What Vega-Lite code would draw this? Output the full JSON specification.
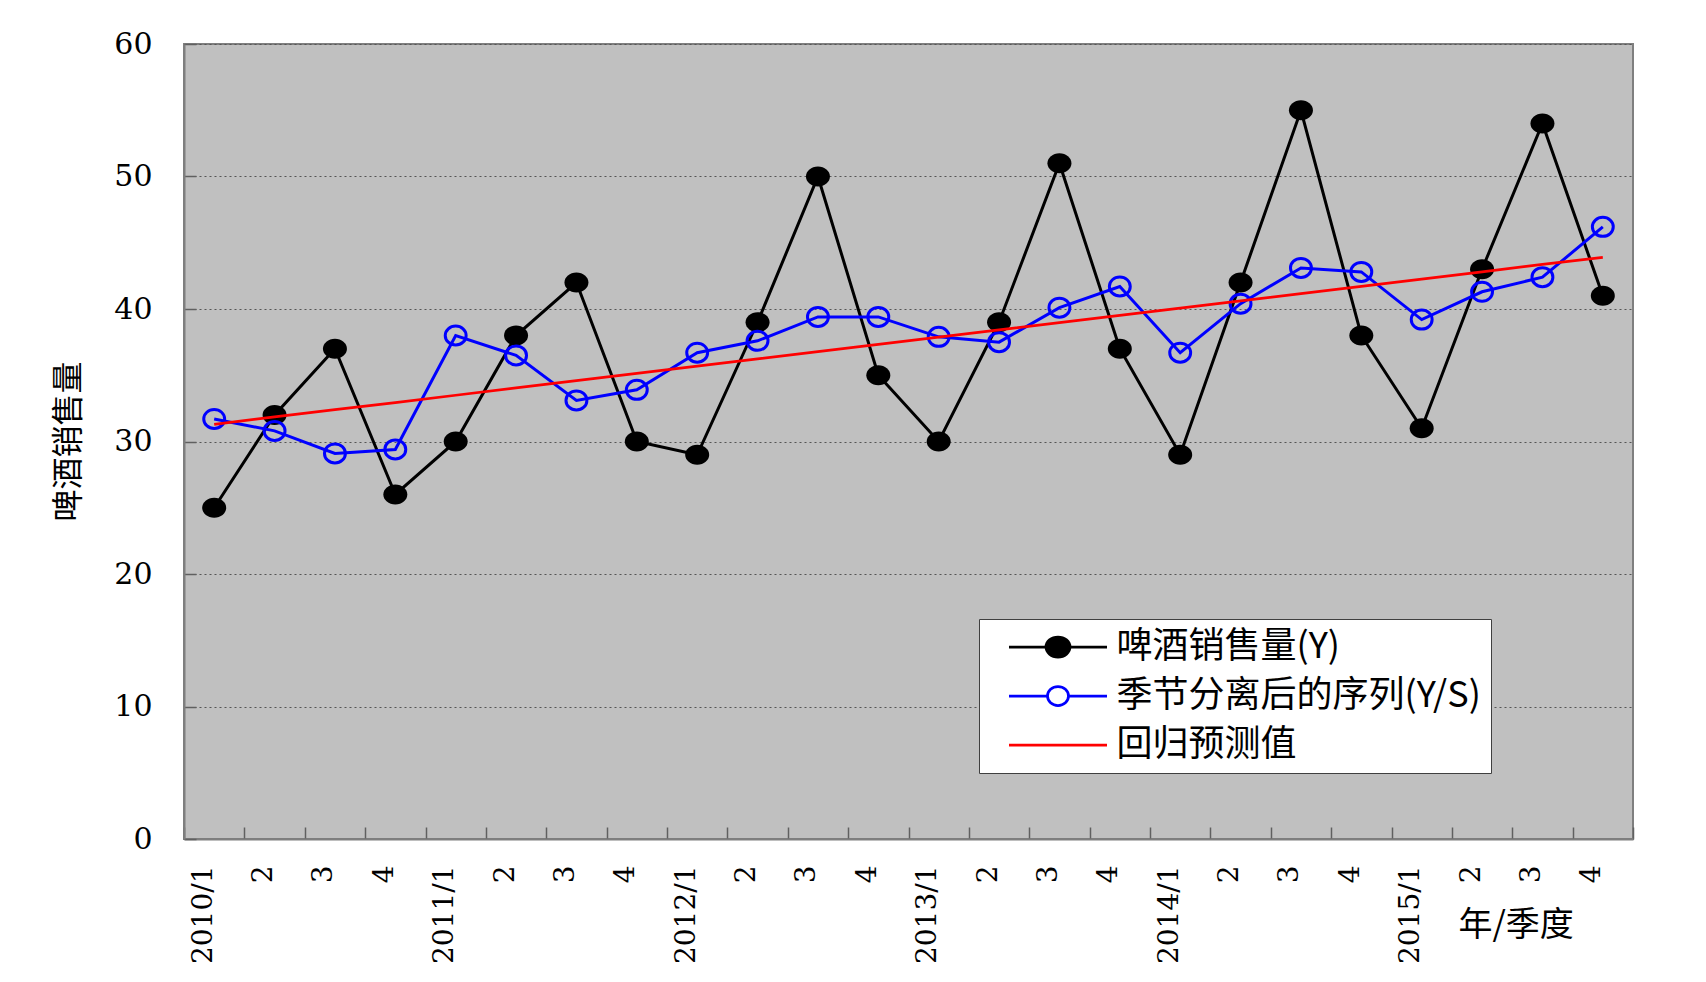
{
  "$schema": "https://vega.github.io/schema/vega-lite/v6.json",
  "width": 1449,
  "height": 795,
  "autosize": "none",
  "padding": {"left": 184, "top": 44, "right": 73, "bottom": 143},
  "background": "white",
  "config": {"view": {"fill": "#C0C0C0", "stroke": "#7F7F7F", "strokeWidth": 2}, "font": "DejaVu Serif"},
  "datasets": {
    "d": [
      {"p":"2010/1","s":"啤酒销售量(Y)","v":25},{"p":"2010/2","s":"啤酒销售量(Y)","v":32},{"p":"2010/3","s":"啤酒销售量(Y)","v":37},{"p":"2010/4","s":"啤酒销售量(Y)","v":26},
      {"p":"2011/1","s":"啤酒销售量(Y)","v":30},{"p":"2011/2","s":"啤酒销售量(Y)","v":38},{"p":"2011/3","s":"啤酒销售量(Y)","v":42},{"p":"2011/4","s":"啤酒销售量(Y)","v":30},
      {"p":"2012/1","s":"啤酒销售量(Y)","v":29},{"p":"2012/2","s":"啤酒销售量(Y)","v":39},{"p":"2012/3","s":"啤酒销售量(Y)","v":50},{"p":"2012/4","s":"啤酒销售量(Y)","v":35},
      {"p":"2013/1","s":"啤酒销售量(Y)","v":30},{"p":"2013/2","s":"啤酒销售量(Y)","v":39},{"p":"2013/3","s":"啤酒销售量(Y)","v":51},{"p":"2013/4","s":"啤酒销售量(Y)","v":37},
      {"p":"2014/1","s":"啤酒销售量(Y)","v":29},{"p":"2014/2","s":"啤酒销售量(Y)","v":42},{"p":"2014/3","s":"啤酒销售量(Y)","v":55},{"p":"2014/4","s":"啤酒销售量(Y)","v":38},
      {"p":"2015/1","s":"啤酒销售量(Y)","v":31},{"p":"2015/2","s":"啤酒销售量(Y)","v":43},{"p":"2015/3","s":"啤酒销售量(Y)","v":54},{"p":"2015/4","s":"啤酒销售量(Y)","v":41},
      {"p":"2010/1","s":"季节分离后的序列(Y/S)","v":31.7},{"p":"2010/2","s":"季节分离后的序列(Y/S)","v":30.8},{"p":"2010/3","s":"季节分离后的序列(Y/S)","v":29.1},{"p":"2010/4","s":"季节分离后的序列(Y/S)","v":29.4},
      {"p":"2011/1","s":"季节分离后的序列(Y/S)","v":38.0},{"p":"2011/2","s":"季节分离后的序列(Y/S)","v":36.5},{"p":"2011/3","s":"季节分离后的序列(Y/S)","v":33.1},{"p":"2011/4","s":"季节分离后的序列(Y/S)","v":33.9},
      {"p":"2012/1","s":"季节分离后的序列(Y/S)","v":36.7},{"p":"2012/2","s":"季节分离后的序列(Y/S)","v":37.6},{"p":"2012/3","s":"季节分离后的序列(Y/S)","v":39.4},{"p":"2012/4","s":"季节分离后的序列(Y/S)","v":39.4},
      {"p":"2013/1","s":"季节分离后的序列(Y/S)","v":37.9},{"p":"2013/2","s":"季节分离后的序列(Y/S)","v":37.5},{"p":"2013/3","s":"季节分离后的序列(Y/S)","v":40.1},{"p":"2013/4","s":"季节分离后的序列(Y/S)","v":41.7},
      {"p":"2014/1","s":"季节分离后的序列(Y/S)","v":36.7},{"p":"2014/2","s":"季节分离后的序列(Y/S)","v":40.4},{"p":"2014/3","s":"季节分离后的序列(Y/S)","v":43.1},{"p":"2014/4","s":"季节分离后的序列(Y/S)","v":42.8},
      {"p":"2015/1","s":"季节分离后的序列(Y/S)","v":39.2},{"p":"2015/2","s":"季节分离后的序列(Y/S)","v":41.3},{"p":"2015/3","s":"季节分离后的序列(Y/S)","v":42.4},{"p":"2015/4","s":"季节分离后的序列(Y/S)","v":46.2},
      {"p":"2010/1","s":"回归预测值","v":31.3},{"p":"2010/2","s":"回归预测值","v":31.85},{"p":"2010/3","s":"回归预测值","v":32.4},{"p":"2010/4","s":"回归预测值","v":32.94},
      {"p":"2011/1","s":"回归预测值","v":33.49},{"p":"2011/2","s":"回归预测值","v":34.04},{"p":"2011/3","s":"回归预测值","v":34.59},{"p":"2011/4","s":"回归预测值","v":35.14},
      {"p":"2012/1","s":"回归预测值","v":35.68},{"p":"2012/2","s":"回归预测值","v":36.23},{"p":"2012/3","s":"回归预测值","v":36.78},{"p":"2012/4","s":"回归预测值","v":37.33},
      {"p":"2013/1","s":"回归预测值","v":37.88},{"p":"2013/2","s":"回归预测值","v":38.42},{"p":"2013/3","s":"回归预测值","v":38.97},{"p":"2013/4","s":"回归预测值","v":39.52},
      {"p":"2014/1","s":"回归预测值","v":40.07},{"p":"2014/2","s":"回归预测值","v":40.62},{"p":"2014/3","s":"回归预测值","v":41.16},{"p":"2014/4","s":"回归预测值","v":41.71},
      {"p":"2015/1","s":"回归预测值","v":42.26},{"p":"2015/2","s":"回归预测值","v":42.81},{"p":"2015/3","s":"回归预测值","v":43.36},{"p":"2015/4","s":"回归预测值","v":43.9}
    ]
  },
  "data": {"name": "d"},
  "encoding": {
    "x": {
      "field": "p", "type": "ordinal", "sort": null,
      "scale": {"type": "band", "paddingInner": 0, "paddingOuter": 0},
      "axis": {
        "title": "年/季度", "titleFont": "Noto Sans CJK SC", "titleFontSize": 34, "titleFontWeight": "normal", "titleColor": "black",
        "titleX": 1274, "titleY": 86, "titleAlign": "left", "titleBaseline": "middle", "titleAngle": 0,
        "labelAngle": -90, "labelFont": "DejaVu Serif", "labelFontSize": 28, "labelColor": "black",
        "labelPadding": 38, "labelOffset": -11, "labelAlign": "right", "labelBaseline": "middle", "labelOverlap": false,
        "labelExpr": "split(datum.value,'/')[1] == '1' ? datum.value : split(datum.value,'/')[1]",
        "tickBand": "extent", "tickSize": -12, "tickColor": "#606060", "tickWidth": 1.5,
        "domainColor": "#7F7F7F", "domainWidth": 2, "grid": false
      }
    },
    "y": {
      "field": "v", "type": "quantitative",
      "scale": {"domain": [0, 60], "nice": false},
      "axis": {
        "values": [0, 10, 20, 30, 40, 50, 60],
        "title": "啤酒销售量", "titleFont": "Noto Sans CJK SC", "titleFontSize": 32, "titleFontWeight": "normal", "titleColor": "black",
        "titleX": -116, "titleY": 397, "titleAngle": -90, "titleAlign": "center", "titleBaseline": "middle",
        "labelFont": "DejaVu Serif", "labelFontSize": 30, "labelColor": "black", "labelPadding": 44,
        "tickSize": -12, "tickColor": "#606060", "tickWidth": 1.5,
        "domainColor": "#7F7F7F", "domainWidth": 2,
        "grid": true, "gridColor": "#555555", "gridDash": [2, 3], "gridWidth": 1
      }
    }
  },
  "layer": [
    {"transform": [{"filter": "datum.s == '啤酒销售量(Y)'"}], "mark": {"type": "line", "color": "black", "strokeWidth": 3}},
    {"transform": [{"filter": "datum.s == '啤酒销售量(Y)'"}], "mark": {"type": "point", "filled": true, "color": "black", "opacity": 1, "size": 400, "shape": "M-1.2,0A1.2,1,0,1,0,1.2,0A1.2,1,0,1,0,-1.2,0Z"}},
    {"transform": [{"filter": "datum.s == '季节分离后的序列(Y/S)'"}], "mark": {"type": "line", "color": "#0000FF", "strokeWidth": 3}},
    {"transform": [{"filter": "datum.s == '季节分离后的序列(Y/S)'"}], "mark": {"type": "point", "filled": false, "color": "#0000FF", "opacity": 1, "strokeWidth": 3, "size": 361, "shape": "M-1.1,0A1.1,1,0,1,0,1.1,0A1.1,1,0,1,0,-1.1,0Z"}},
    {"transform": [{"filter": "datum.s == '回归预测值'"}], "mark": {"type": "line", "color": "#FF0000", "strokeWidth": 2.75}},
    {
      "mark": {"type": "point", "filled": false, "opacity": 0},
      "encoding": {
        "color": {
          "field": "s", "type": "nominal",
          "scale": {"domain": ["啤酒销售量(Y)", "季节分离后的序列(Y/S)", "回归预测值"], "range": ["#000000", "#0000FF", "#FF0000"]},
          "legend": {
            "orient": "none", "legendX": 795, "legendY": 575, "title": null,
            "fillColor": "white", "strokeColor": "#404040", "padding": 10,
            "clipHeight": 36, "rowPadding": 13,
            "symbolSize": 10000, "symbolStrokeWidth": 2.75, "symbolOffset": 17.5, "symbolOpacity": 1,
            "labelOffset": 7, "labelFont": "Noto Sans CJK SC", "labelFontSize": 36, "labelColor": "black", "labelLimit": 0
          }
        },
        "shape": {
          "field": "s", "type": "nominal",
          "scale": {
            "domain": ["啤酒销售量(Y)", "季节分离后的序列(Y/S)", "回归预测值"],
            "range": [
              "M-0.98,0L0.98,0M-0.24,0A0.24,0.2,0,1,0,0.24,0A0.24,0.2,0,1,0,-0.24,0M-0.2,0A0.2,0.16,0,1,0,0.2,0A0.2,0.16,0,1,0,-0.2,0M-0.16,0A0.16,0.12,0,1,0,0.16,0A0.16,0.12,0,1,0,-0.16,0M-0.12,0A0.12,0.08,0,1,0,0.12,0A0.12,0.08,0,1,0,-0.12,0M-0.08,0A0.08,0.04,0,1,0,0.08,0A0.08,0.04,0,1,0,-0.08,0M-0.04,0L0.04,0",
              "M-0.98,0L-0.21,0M0.21,0L0.98,0M-0.21,0A0.21,0.19,0,1,0,0.21,0A0.21,0.19,0,1,0,-0.21,0",
              "M-0.98,0L0.98,0"
            ]
          }
        }
      }
    }
  ]
}
